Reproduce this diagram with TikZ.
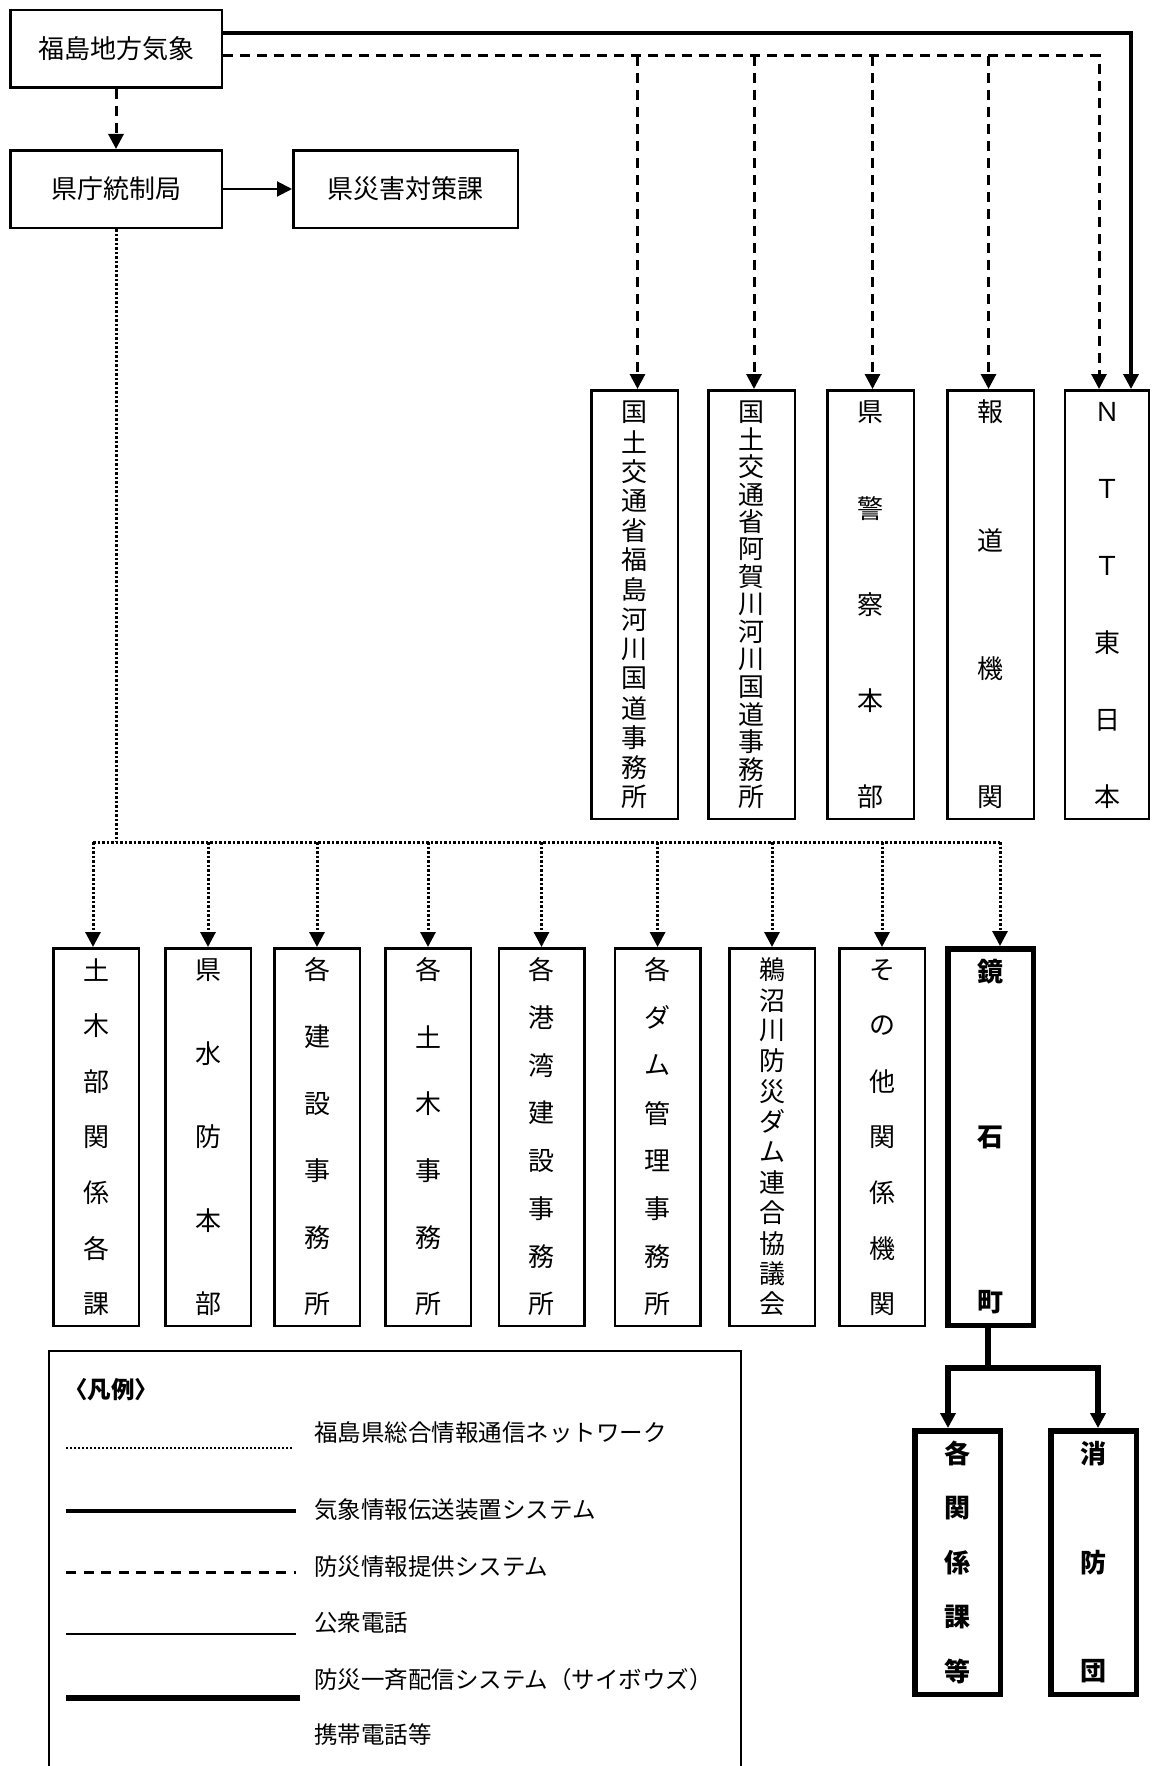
\documentclass[tikz,border=0pt]{standalone}
\usepackage{fontspec}
\newfontfamily\jp{Noto Sans CJK JP}
\usetikzlibrary{arrows.meta}
\newcommand\vcol[2]{\vbox to #1{\offinterlineskip\foreach \ch in {#2}{\hbox to 30pt{\hss\vbox to 26pt{\vss\hbox{\ch}\vss}\hss}\vfill}\unskip}}
\begin{document}
\begin{tikzpicture}[x=1pt,y=-1pt,
  box/.style={draw, line width=2.5pt, inner sep=0pt, font=\jp\fontsize{26}{26}\selectfont},
  hbox/.style={box, minimum width=211.5pt, minimum height=77.5pt},
  topcol/.style={box, minimum width=86.5pt, minimum height=428.5pt},
  lowcol/.style={box, minimum width=85.5pt, minimum height=377.5pt},
  thickcol/.style={box, line width=5.5pt, font=\jp\bfseries\fontsize{26}{26}\selectfont, minimum width=85.5pt},
  arr/.style={-{Triangle[length=15pt,width=15pt]}},
  solidl/.style={line width=3.5pt},
  dashl/.style={line width=3pt, dash pattern=on 10pt off 7pt},
  dotl/.style={line width=3pt, dash pattern=on 2.5pt off 2pt},
  thinl/.style={line width=2pt},
  thickl/.style={line width=5.5pt},
  lgtext/.style={font=\jp\fontsize{23.5}{23.5}\selectfont, inner sep=0pt, anchor=west}
]
\useasboundingbox[fill=white] (0,0) rectangle (1152,1766);

% top boxes
\node[hbox] (fuku) at (116,49) {福島地方気象};
\node[hbox] (kencho) at (116,189) {県庁統制局};
\node[hbox, minimum width=224.5pt] (saigai) at (405.5,189) {県災害対策課};

\node[topcol] (k1) at (634.5,604.5) {\vcol{411pt}{国,土,交,通,省,福,島,河,川,国,道,事,務,所}};
\node[topcol] (k2) at (751.5,604.5) {\vcol{411pt}{国,土,交,通,省,阿,賀,川,河,川,国,道,事,務,所}};
\node[topcol] (k3) at (870.5,604.5) {\vcol{411pt}{県,警,察,本,部}};
\node[topcol] (k4) at (990.5,604.5) {\vcol{411pt}{報,道,機,関}};
\node[topcol, minimum width=84pt] (ntt) at (1107,604.5) {\vcol{411pt}{Ｎ,Ｔ,Ｔ,東,日,本}};

% lower boxes
\node[lowcol] (b1) at (96,1137) {\vcol{360pt}{土,木,部,関,係,各,課}};
\node[lowcol] (b2) at (208,1137) {\vcol{360pt}{県,水,防,本,部}};
\node[lowcol] (b3) at (317,1137) {\vcol{360pt}{各,建,設,事,務,所}};
\node[lowcol] (b4) at (428,1137) {\vcol{360pt}{各,土,木,事,務,所}};
\node[lowcol] (b5) at (541.5,1137) {\vcol{360pt}{各,港,湾,建,設,事,務,所}};
\node[lowcol] (b6) at (657.6,1137) {\vcol{360pt}{各,ダ,ム,管,理,事,務,所}};
\node[lowcol] (b7) at (772,1137) {\vcol{360pt}{鵜,沼,川,防,災,ダ,ム,連,合,協,議,会}};
\node[lowcol] (b8) at (882,1137) {\vcol{360pt}{そ,の,他,関,係,機,関}};
\node[thickcol, minimum height=376.5pt] (b9) at (990.5,1137) {\vcol{356pt}{鏡,石,町}};

% bottom boxes
\node[thickcol, minimum height=263.5pt] (kaku) at (957.5,1562.5) {\vcol{244pt}{各,関,係,課,等}};
\node[thickcol, minimum height=263.5pt] (shodan) at (1093.5,1562.5) {\vcol{244pt}{消,防,団}};

% connectors from 福島地方気象
\draw[solidl, arr] ([yshift=-24pt]fuku.north east) -| ([xshift=24pt]ntt.north);
\coordinate (dl) at ([yshift=-47pt]fuku.north east);
\draw[dashl, arr] (dl) -| ([xshift=-8pt]ntt.north);
\draw[dashl, arr] ([xshift=3pt]k1.north |- dl) -- ([xshift=3pt]k1.north);
\draw[dashl, arr] ([xshift=2.5pt]k2.north |- dl) -- ([xshift=2.5pt]k2.north);
\draw[dashl, arr] ([xshift=2pt]k3.north |- dl) -- ([xshift=2pt]k3.north);
\draw[dashl, arr] ([xshift=-2pt]k4.north |- dl) -- ([xshift=-2pt]k4.north);
\draw[dashl, arr] (fuku.south) -- (kencho.north);
\draw[thinl, arr] (kencho.east) -- (saigai.west);

% dotted network
\coordinate (dotj) at (116,842);
\draw[dotl] (kencho.south) -- (dotj);
\draw[dotl] ([xshift=-3pt]b1.north |- dotj) -- ([xshift=9.5pt]b9.north |- dotj);
\draw[dotl, arr] ([xshift=-3pt]b1.north |- dotj) -- ([xshift=-3pt]b1.north);
\foreach \b in {b2,b3,b4,b5,b6,b7,b8}{
  \draw[dotl, arr] (\b.north |- dotj) -- (\b.north);
}
\draw[dotl, arr] ([xshift=9.5pt]b9.north |- dotj) -- ([xshift=9.5pt]b9.north);

% 鏡石町 to bottom
\draw[thickl, arr] ([xshift=-2.5pt]b9.south) -- ++(0,40) -| ([xshift=-9.5pt]kaku.north);
\draw[thickl, arr] ([xshift=-2.5pt]b9.south) -- ++(0,40) -| ([xshift=4.5pt]shodan.north);

% legend
\draw[line width=2.5pt] (49,1770) -- (49,1351) -- (741,1351) -- (741,1770);
\node[lgtext, font=\jp\bfseries\fontsize{23.5}{23.5}\selectfont] (lgt) at (64,1390) {〈凡例〉};
\draw[line width=2.5pt, dash pattern=on 2pt off 2pt] (66,1448) -- (293,1448);
\node[lgtext] (lg1) at (314,1433) {福島県総合情報通信ネットワーク};
\draw[line width=4pt] (66,1511) -- (296,1511);
\node[lgtext] (lg2) at (314,1510) {気象情報伝送装置システム};
\draw[line width=3pt, dash pattern=on 10pt off 7.5pt] (66,1572) -- (296,1572);
\node[lgtext] (lg3) at (314,1567) {防災情報提供システム};
\draw[line width=1.5pt] (66,1634) -- (296,1634);
\node[lgtext] (lg4) at (314,1623) {公衆電話};
\draw[line width=6.5pt] (66,1698) -- (300,1698);
\node[lgtext] (lg5) at (314,1680) {防災一斉配信システム（サイボウズ）};
\node[lgtext] (lg6) at (314,1735) {携帯電話等};
\end{tikzpicture}
\end{document}
